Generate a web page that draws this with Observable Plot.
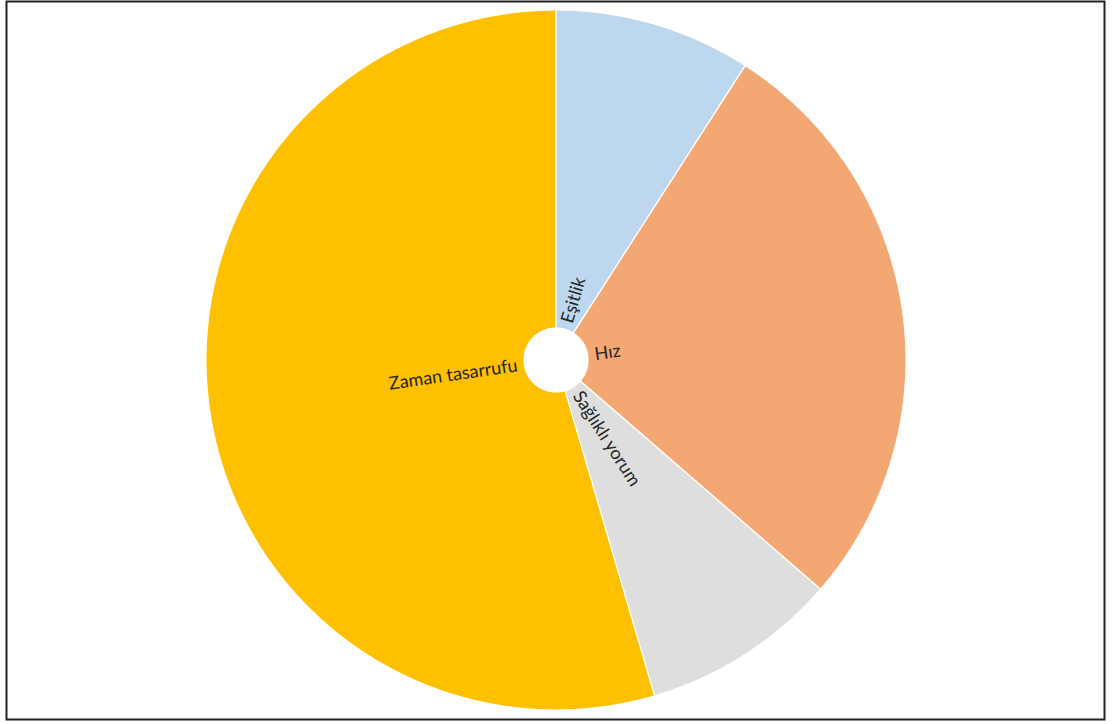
<!DOCTYPE html>
<html>
<head>
<meta charset="utf-8">
<script src="https://cdn.jsdelivr.net/npm/d3@7"></script>
<script src="https://cdn.jsdelivr.net/npm/@observablehq/plot@0.6"></script>
<style>
  html, body { margin: 0; padding: 0; background: #fff; }
</style>
</head>
<body>
<div id="chart"></div>
<script>
// Data
const categories = ["Eşitlik", "Hız", "Sağlıklı yorum", "Zaman tasarrufu"];
const values = [3, 9, 3, 18];
const sliceColors = ["#BDD7EE", "#F3A874", "#DEDEDE", "#FFC000"];

// Layout
const W = 1112, H = 724;
const cx = 555.5, cy = 359.5, R = 350;           // pie centre and radius in pixels
const mL = 6, mR = 8, mT = 1, mB = 5;            // frame position
const innerFrac = 32 / 350;                       // hole
const labelFrac = 39 / 350;                       // label start radius

const total = d3.sum(values);
let acc = 0;
const slices = categories.map((c, i) => {
  const a0 = acc / total * 2 * Math.PI;
  acc += values[i];
  const a1 = acc / total * 2 * Math.PI;
  return {category: c, a0, a1};
});

// polygon outline of each ring slice in data units (radius 1 = outer edge)
const poly = [];
for (const s of slices) {
  const n = Math.max(2, Math.ceil((s.a1 - s.a0) / (Math.PI / 720)));
  const pts = [];
  for (let k = 0; k <= n; k++) {
    const t = s.a0 + (s.a1 - s.a0) * k / n;
    pts.push({category: s.category, x: Math.sin(t), y: Math.cos(t)});
  }
  for (let k = n; k >= 0; k--) {
    const t = s.a0 + (s.a1 - s.a0) * k / n;
    pts.push({category: s.category, x: innerFrac * Math.sin(t), y: innerFrac * Math.cos(t)});
  }
  pts.push({...pts[0]});
  poly.push(...pts);
}

const labels = slices.map(s => {
  const mid = (s.a0 + s.a1) / 2;
  let rot = mid * 180 / Math.PI - 90;
  let flip = false;
  if (rot > 90) { rot -= 180; flip = true; }
  return {
    category: s.category,
    x: labelFrac * Math.sin(mid),
    y: labelFrac * Math.cos(mid),
    rotate: rot,
    flip
  };
});

const plot = Plot.plot({
  width: W,
  height: H,
  marginLeft: mL,
  marginRight: mR,
  marginTop: mT,
  marginBottom: mB,
  x: {domain: [(mL - cx) / R, (W - mR - cx) / R], axis: null},
  y: {domain: [-(H - mB - cy) / R, (cy - mT) / R], axis: null},
  color: {domain: categories, range: sliceColors, legend: false},
  style: {fontFamily: "Lato, 'Open Sans', sans-serif", background: "#fff"},
  marks: [
    Plot.line(poly, {
      x: "x", y: "y", z: "category",
      fill: "category",
      stroke: "#fff",
      strokeWidth: 1.2,
      curve: "linear"
    }),
    Plot.text(labels.filter(d => !d.flip), {
      x: "x", y: "y", text: "category", rotate: "rotate",
      textAnchor: "start", fontSize: 18, fill: "#262626"
    }),
    Plot.text(labels.filter(d => d.flip), {
      x: "x", y: "y", text: "category", rotate: "rotate",
      textAnchor: "end", fontSize: 18, fill: "#262626"
    }),
    Plot.frame({stroke: "#222", strokeWidth: 2})
  ]
});
document.getElementById("chart").append(plot);
</script>
</body>
</html>
